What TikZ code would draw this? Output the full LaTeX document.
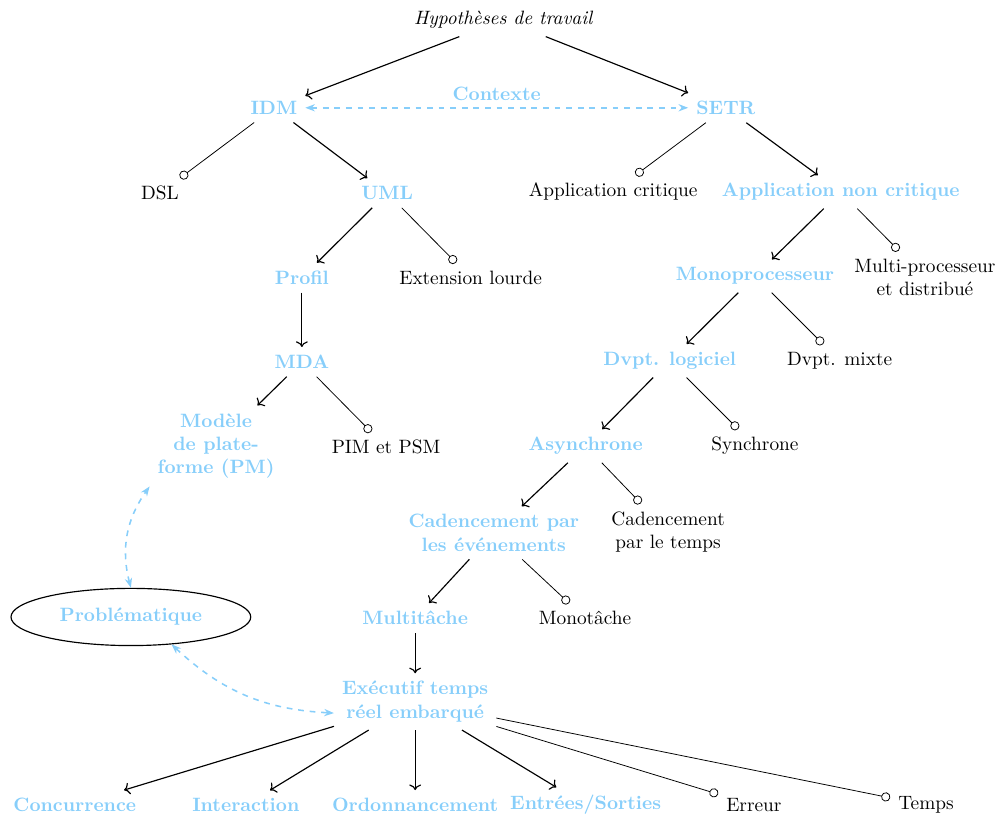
\documentclass[tikz,border=0pt]{standalone}
\usepackage{xcolor}
\usepackage{tikz}
\usetikzlibrary{shapes,arrows,positioning,calc,arrows.meta}
\definecolor{ctxblue}{RGB}{135,206,250}

\begin{document}
\begin{tikzpicture}[
    choice/.style={font=\bfseries, text=ctxblue, inner sep=4pt, align=center},
    other/.style={inner sep=4pt, align=center},
    keep/.style={->, semithick},
    drop/.style={-o, thin},
    link/.style={{Stealth[length=5pt]}-{Stealth[length=5pt]}, ctxblue, dashed, thick}
]
    \useasboundingbox (0,0) rectangle (18.24,-14.87);

    % Hypotheses
    \node [other, font=\itshape] (hyp) at (9.15,-0.36) {Hypothèses de travail};
    \node [choice] (idm) at (4.98,-1.96) {IDM};
    \node [choice] (setr) at (13.2,-1.96) {SETR};
    \draw [keep] (hyp) -- (idm);
    \draw [keep] (hyp) -- (setr);
    \draw [link] (idm) -- node[choice, above, inner sep=3pt] (ctx) {Contexte} (setr);

    % IDM branch
    \node [other] (dsl) at (2.91,-3.51) {DSL};
    \node [choice] (uml) at (7.04,-3.51) {UML};
    \node [choice] (profil) at (5.49,-5.05) {Profil};
    \node [other] (extl) at (8.56,-5.05) {Extension lourde};
    \node [choice] (mda) at (5.49,-6.58) {MDA};
    \node [choice] (pm) at (3.93,-8.11) {Modèle\\de plate-\\forme (PM)};
    \node [other] (pim) at (7.02,-8.13) {PIM et PSM};
    \draw [drop] (idm) -- (dsl);
    \draw [keep] (idm) -- (uml);
    \draw [keep] (uml) -- (profil);
    \draw [drop] (uml) -- (extl);
    \draw [keep] (profil) -- (mda);
    \draw [keep] (mda) -- (pm);
    \draw [drop] (mda) -- (pim);

    % SETR branch
    \node [other] (appc) at (11.15,-3.49) {Application critique};
    \node [choice] (appnc) at (15.29,-3.49) {Application non critique};
    \node [choice] (mono) at (13.73,-5.02) {Monoprocesseur};
    \node [other] (multi) at (16.82,-5.04) {Multi-processeur\\et distribué};
    \node [choice] (dvptl) at (12.18,-6.56) {Dvpt. logiciel};
    \node [other] (dvptm) at (15.27,-6.56) {Dvpt. mixte};
    \node [choice] (async) at (10.65,-8.11) {Asynchrone};
    \node [other] (sync) at (13.73,-8.11) {Synchrone};
    \node [choice] (cadev) at (8.98,-9.69) {Cadencement par\\les événements};
    \node [other] (cadt) at (12.15,-9.67) {Cadencement\\par le temps};
    \node [choice] (multit) at (7.55,-11.24) {Multitâche};
    \node [other] (monot) at (10.64,-11.24) {Monotâche};
    \draw [drop] (setr) -- (appc);
    \draw [keep] (setr) -- (appnc);
    \draw [keep] (appnc) -- (mono);
    \draw [drop] (appnc) -- (multi);
    \draw [keep] (mono) -- (dvptl);
    \draw [drop] (mono) -- (dvptm);
    \draw [keep] (dvptl) -- (async);
    \draw [drop] (dvptl) -- (sync);
    \draw [keep] (async) -- (cadev);
    \draw [drop] (async) -- (cadt);
    \draw [keep] (cadev) -- (multit);
    \draw [drop] (cadev) -- (monot);

    % Executif
    \node [choice] (exec) at (7.55,-12.76) {Exécutif temps\\réel embarqué};
    \node [choice] (conc) at (1.36,-14.64) {Concurrence};
    \node [choice] (inter) at (4.47,-14.64) {Interaction};
    \node [choice] (ordo) at (7.55,-14.64) {Ordonnancement};
    \node [choice] (es) at (10.65,-14.64) {Entrées/Sorties};
    \node [other] (err) at (13.71,-14.64) {Erreur};
    \node [other] (temps) at (16.84,-14.64) {Temps};
    \draw [keep] (multit) -- (exec);
    \draw [keep] (exec) -- (conc);
    \draw [keep] (exec) -- (inter);
    \draw [keep] (exec) -- (ordo);
    \draw [keep] (exec) -- (es);
    \draw [drop] (exec) -- (err);
    \draw [drop] (exec) -- (temps);

    % Problematique
    \node [choice, draw=black, semithick, ellipse, minimum width=4.36cm, minimum height=1.04cm] (probl) at (2.38,-11.22) {Problématique};
    \draw [link] (probl.north) to[bend left=25] (pm.south west);
    \draw [link] (probl.-34) to[bend right=20] (exec.188);
\end{tikzpicture}
\end{document}
